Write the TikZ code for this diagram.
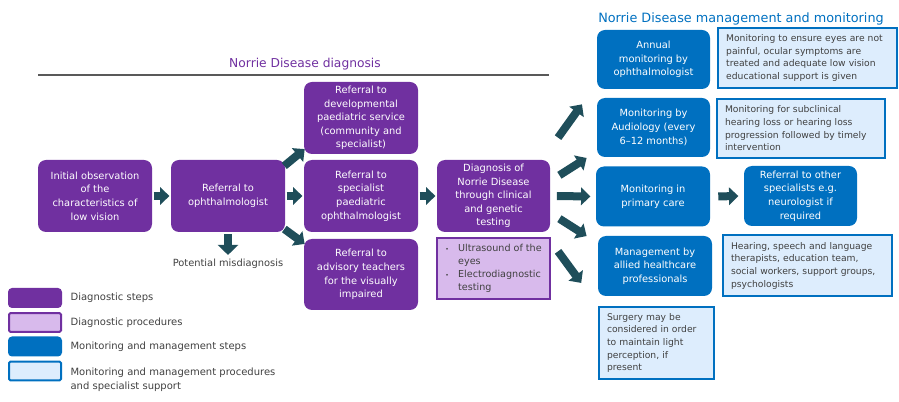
\documentclass[tikz,border=0pt]{standalone}
\usepackage{fontspec}
\setmainfont{DejaVu Sans}
\usepackage{xcolor}
\definecolor{ndpurple}{RGB}{112,48,160}
\definecolor{ndlilac}{RGB}{216,186,236}
\definecolor{ndblue}{RGB}{0,112,192}
\definecolor{ndpale}{RGB}{221,237,253}
\definecolor{ndteal}{RGB}{31,78,90}
\definecolor{ndtext}{RGB}{64,64,64}
\definecolor{ndrule}{RGB}{89,89,89}
\usetikzlibrary{arrows.meta, positioning}

\tikzset{
  bodytext/.style={font=\fontsize{7.4}{10.2}\selectfont},
  notetext/.style={font=\fontsize{6.9}{9.5}\selectfont},
  diagstep/.style={bodytext, fill=ndpurple, text=white, align=center, rounded corners=6pt, inner sep=1pt},
  monstep/.style={bodytext, fill=ndblue, text=white, align=center, rounded corners=6pt, inner sep=1pt},
  diagproc/.style={font=\fontsize{7.2}{9.6}\selectfont, fill=ndlilac, draw=ndpurple, line width=1.5pt, text=ndtext, align=left, inner xsep=5pt},
  monproc/.style={notetext, fill=ndpale, draw=ndblue, line width=1.5pt, text=ndtext, align=left, inner xsep=6pt},
  bigarrow/.style={ndteal, line width=6pt, -{Triangle[width=13pt, length=7pt]}, shorten <=1pt, shorten >=1pt},
  legtext/.style={font=\fontsize{7.5}{10.5}\selectfont, text=ndtext, align=left, inner sep=1pt},
}

\begin{document}
\begin{tikzpicture}[x=0.75pt, y=-0.75pt]
  \useasboundingbox (0,0) rectangle (899,402);

  % Section headings
  \node[font=\fontsize{9.2}{11}\selectfont, text=ndpurple] (diaghead) at (305,64) {Norrie Disease diagnosis};
  \draw[ndrule, line width=1.5pt] (38,75) -- (549,75);
  \node[font=\fontsize{9.6}{11}\selectfont, text=ndblue] (monhead) at (741,19) {Norrie Disease management and monitoring};

  % Diagnostic steps
  \node[diagstep, minimum width=85.5pt, minimum height=54pt] (obs) at (95,196)
    {Initial observation\\of the\\characteristics of\\low vision};
  \node[diagstep, minimum width=85.5pt, minimum height=54pt] (oph) at (228,196)
    {Referral to\\ophthalmologist};
  \node[diagstep, minimum width=85.5pt, minimum height=54pt] (dev) at (361,118)
    {Referral to\\developmental\\paediatric service\\(community and\\specialist)};
  \node[diagstep, minimum width=85.5pt, minimum height=54pt] (spec) at (361,196)
    {Referral to\\specialist\\paediatric\\ophthalmologist};
  \node[diagstep, minimum width=85.5pt, minimum height=53.25pt] (adv) at (361,274.5)
    {Referral to\\advisory teachers\\for the visually\\impaired};
  \node[diagstep, minimum width=84.75pt, minimum height=54pt] (diag) at (493.5,196)
    {Diagnosis of\\Norrie Disease\\through clinical\\and genetic\\testing};
  \node[bodytext, text=ndtext, inner sep=1pt] (mis) at (228,264) {Potential misdiagnosis};

  % Diagnostic procedures
  \node[diagproc, minimum width=84.75pt, minimum height=44.25pt] (proc) at (493.5,268.5)
    {\begin{tabular}{@{}l@{\hspace{7pt}}l@{}}
       {\fontsize{4.5}{5}\selectfont •} & Ultrasound of the\\
       & eyes\\
       {\fontsize{4.5}{5}\selectfont •} & Electrodiagnostic\\
       & testing
     \end{tabular}};

  % Monitoring and management steps
  \node[monstep, minimum width=84.75pt, minimum height=44.25pt] (annual) at (653.5,59.5)
    {Annual\\monitoring by\\ophthalmologist};
  \node[monstep, minimum width=84.75pt, minimum height=44.25pt] (audio) at (653.5,127.5)
    {Monitoring by\\Audiology (every\\6--12 months)};
  \node[monstep, minimum width=85.5pt, minimum height=45pt] (primary) at (653,196.5)
    {Monitoring in\\primary care};
  \node[monstep, minimum width=84.75pt, minimum height=45pt] (other) at (800.5,196)
    {Referral to other\\specialists e.g.\\neurologist if\\required};
  \node[monstep, minimum width=85.5pt, minimum height=45pt] (allied) at (655,266)
    {Management by\\allied healthcare\\professionals};

  % Monitoring and management procedures
  \node[monproc, text width=122pt, minimum height=45pt] (annualnote) at (807.5,58)
    {Monitoring to ensure eyes are not\\painful, ocular symptoms are\\treated and adequate low vision\\educational support is given};
  \node[monproc, text width=114pt, minimum height=44.25pt] (audionote) at (801,128.5)
    {Monitoring for subclinical\\hearing loss or hearing loss\\progression followed by timely\\intervention};
  \node[monproc, text width=114.75pt, minimum height=45.75pt] (alliednote) at (807.5,265.5)
    {Hearing, speech and language\\therapists, education team,\\social workers, support groups,\\psychologists};
  \node[monproc, text width=74.25pt, minimum height=54pt] (surgery) at (656.5,343)
    {Surgery may be\\considered in order\\to maintain light\\perception, if\\present};

  % Arrows
  \draw[bigarrow] (obs.east) -- (oph.west);
  \draw[bigarrow] (oph.east) -- (spec.west);
  \draw[bigarrow] ([shift={(-2,7)}]oph.north east) -- ([shift={(2,-6)}]dev.south west);
  \draw[bigarrow] ([shift={(-2,-4)}]oph.south east) -- ([shift={(2,6)}]adv.north west);
  \draw[bigarrow, -{Triangle[width=15pt, length=7.5pt]}, shorten <=1.5pt, shorten >=2pt] (oph.south) -- (mis.north);
  \draw[bigarrow] (spec.east) -- (diag.west);
  \draw[bigarrow] ([shift={(7,-21)}]diag.north east) -- ([shift={(-14,14)}]annual.south west);
  \draw[bigarrow] ([shift={(8,-20)}]diag.east) -- ([shift={(-9,0)}]audio.south west);
  \draw[bigarrow, shorten <=5pt, shorten >=4pt] (diag.east) -- (primary.west);
  \draw[bigarrow] ([shift={(8,22)}]diag.east) -- ([shift={(-10,1)}]allied.north west);
  \draw[bigarrow] ([shift={(7,18)}]diag.south east) -- ([shift={(-16,-22)}]surgery.north west);
  \draw[bigarrow, shorten <=6pt, shorten >=4pt] (primary.east) -- (other.west);

  % Legend
  \node[fill=ndpurple, rounded corners=3pt, minimum width=40.5pt, minimum height=15pt] (leg1) at (35,298) {};
  \node[fill=ndlilac, draw=ndpurple, line width=1.5pt, rounded corners=1pt, minimum width=39pt, minimum height=14pt] (leg2) at (35,322.5) {};
  \node[fill=ndblue, rounded corners=3pt, minimum width=40.5pt, minimum height=15pt] (leg3) at (35,346.5) {};
  \node[fill=ndpale, draw=ndblue, line width=1.5pt, rounded corners=1pt, minimum width=39pt, minimum height=14pt] (leg4) at (35,371) {};
  \node[legtext, anchor=west] (leg1txt) at (69,298) {Diagnostic steps};
  \node[legtext, anchor=west] (leg2txt) at (69,322.5) {Diagnostic procedures};
  \node[legtext, anchor=west] (leg3txt) at (69,346.5) {Monitoring and management steps};
  \node[legtext, anchor=west] (leg4txt) at (69,380) {Monitoring and management procedures\\and specialist support};
\end{tikzpicture}
\end{document}
